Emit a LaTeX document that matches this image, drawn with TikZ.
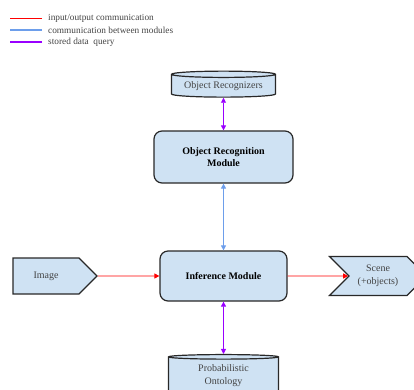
\documentclass[tikz,border=0pt]{standalone}
\usepackage{fontspec}
\setmainfont{Liberation Serif}
\usetikzlibrary{shapes.geometric, shapes.symbols, arrows.meta}
\definecolor{boxblue}{RGB}{207, 226, 243}
\definecolor{edgegray}{RGB}{40, 40, 40}
\definecolor{textgray}{RGB}{67, 67, 67}
\definecolor{iored}{RGB}{255, 0, 0}
\definecolor{modblue}{RGB}{109, 158, 235}
\definecolor{querypurple}{RGB}{153, 0, 255}
\tikzset{
	module/.style={draw=edgegray, line width=1.2pt, fill=boxblue, rounded corners=8pt, font=\fontsize{10}{12}\selectfont\bfseries, align=center},
	store/.style={cylinder, shape border rotate=90, draw=edgegray, line width=1.2pt, fill=boxblue, text=textgray, align=center, inner sep=0pt},
	pointer/.style={signal, signal pointer angle=90, draw=edgegray, line width=1.2pt, fill=boxblue, text=textgray, align=center, inner sep=0pt},
	legend/.style={anchor=west, inner sep=0pt, text=textgray, font=\fontsize{9.3}{10}\selectfont},
	keyline/.style={line width=1.4pt, shorten <=6pt},
	io/.style={iored, line width=0.9pt, -{Triangle[length=5pt, width=5pt]}},
	link/.style={modblue, line width=0.9pt, {Triangle[length=5pt, width=5pt]}-{Triangle[length=5pt, width=5pt]}},
	query/.style={querypurple, line width=0.9pt, {Triangle[length=5pt, width=5pt]}-{Triangle[length=5pt, width=5pt]}}
}

\begin{document}
\begin{tikzpicture}[x=1pt, y=-1pt, font=\fontsize{10}{13}\selectfont]
	\useasboundingbox (0,0) rectangle (414,389);
	% legend
	\coordinate (keyio) at (10, 18.5);
	\coordinate (keylink) at (10, 30);
	\coordinate (keyquery) at (10, 42);
	\node[legend] (legio) at (48, 18.5) {input/output communication};
	\node[legend] (leglink) at (48, 30) {communication between modules};
	\node[legend] (legquery) at (48, 42) {stored data\ \ query};
	\draw[keyline, iored] (legio.west) -- (keyio);
	\draw[keyline, modblue] (leglink.west) -- (keylink);
	\draw[keyline, querypurple] (legquery.west) -- (keyquery);
	\node[store, minimum width=104pt, minimum height=26pt, aspect=0.08] (recognizers) at (223.5, 86) {Object Recognizers};
	\node[module, minimum width=139pt, minimum height=52pt] (recognition) at (223.5, 157) {Object Recognition\\Module};
	\node[module, minimum width=127pt, minimum height=50pt] (inference) at (223.5, 276) {Inference Module};
	\node[pointer, signal to=east, minimum width=84pt, minimum height=36pt] (image) at (46, 276) {Image};
	\node[pointer, signal from=west, signal to=east, minimum width=97pt, minimum height=39pt] (scene) at (378, 276) {Scene\\(+objects)};
	\node[store, minimum width=110pt, minimum height=40pt, aspect=0.09] (ontology) at (223.5, 376) {Probabilistic\\Ontology};
	\draw[query] (recognizers) -- (recognition);
	\draw[link] (recognition) -- (inference);
	\draw[io] (image) -- (inference);
	\draw[io] (inference) -- (scene);
	\draw[query] (inference) -- (ontology);
\end{tikzpicture}
\end{document}
